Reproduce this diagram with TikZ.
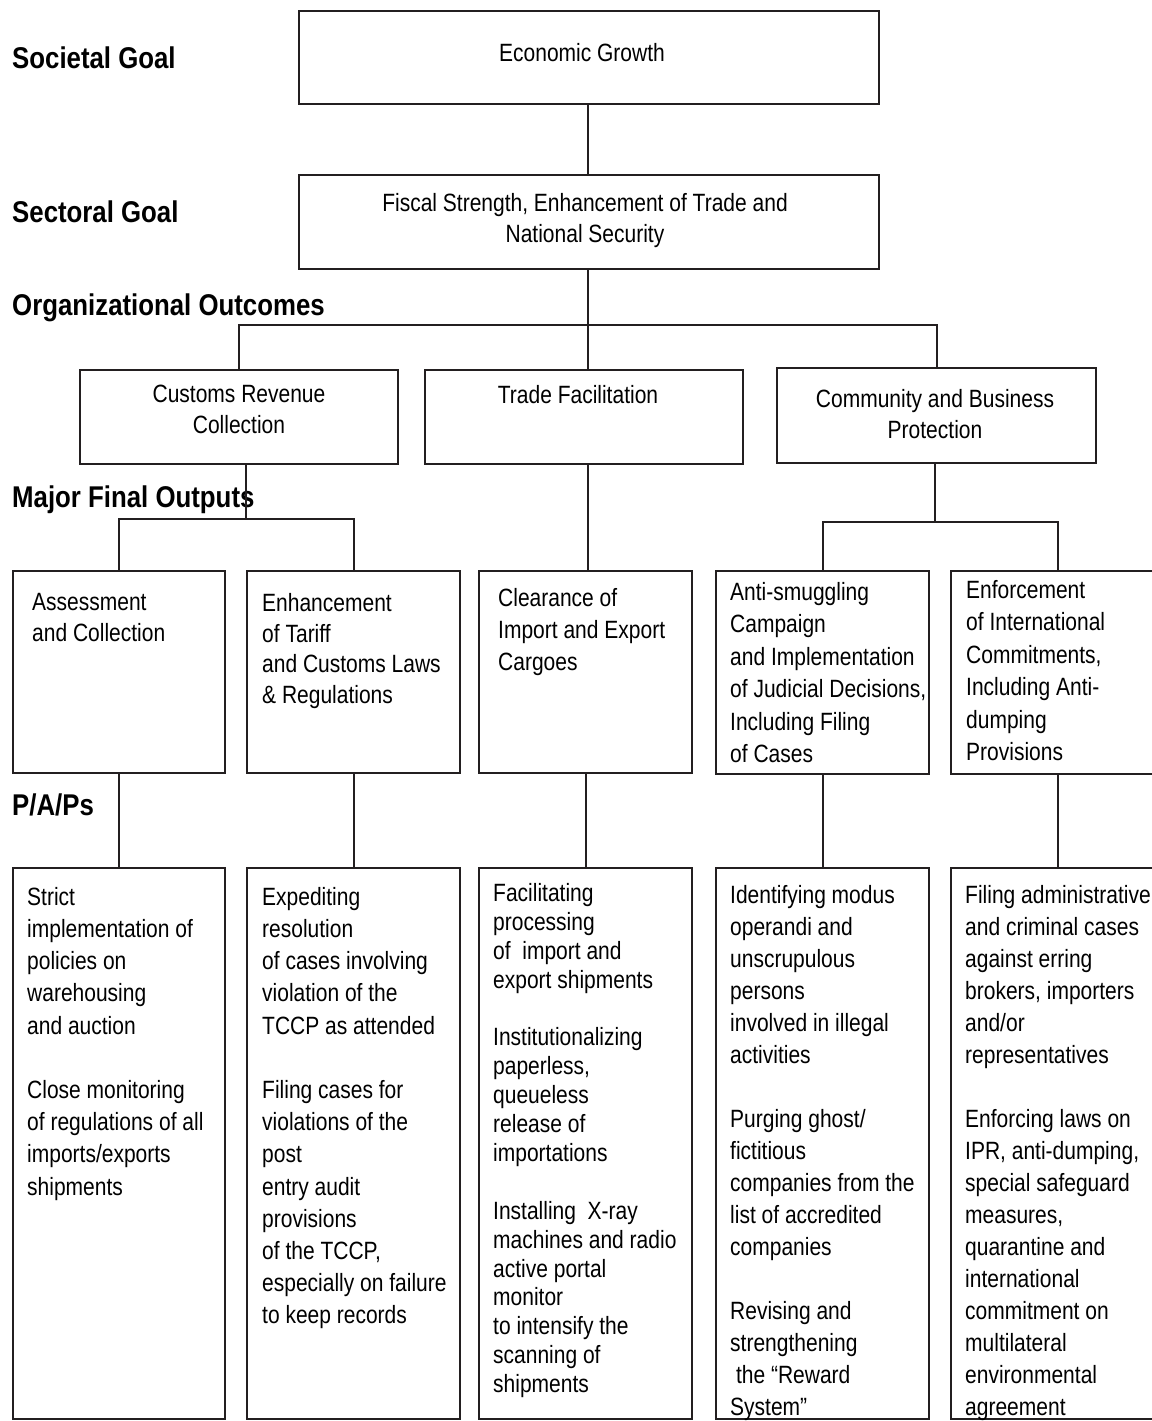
\documentclass[tikz,border=0pt]{standalone}
\usepackage{fontspec}
\setmainfont{Liberation Sans}[FakeStretch=0.84]
\newfontfamily\headfont{Liberation Sans}[FakeStretch=0.86]
\definecolor{inkclr}{RGB}{35,31,32}
\tikzset{
  lvl/.style={anchor=base west, inner sep=0pt, font=\headfont\bfseries\fontsize{30}{36}\selectfont},
  box/.style={draw=inkclr, line width=2pt, inner sep=0pt, anchor=north west},
  txt/.style={inner sep=0pt, anchor=north west, align=left, font=\fontsize{25}{#1}\selectfont},
  txt/.default=32,
  ctxt/.style={inner sep=0pt, anchor=north, align=center, font=\fontsize{25}{31}\selectfont},
  link/.style={draw=inkclr, line width=2pt}
}
\begin{document}
\begin{tikzpicture}[x=1pt,y=-1pt]
\useasboundingbox[fill=white] (0,0) rectangle (1151,1421);
% level labels
\node[lvl] (lsoc) at (12,68) {Societal Goal};
\node[lvl] (lsec) at (12,222) {Sectoral Goal};
\node[lvl] (lorg) at (12,315) {Organizational Outcomes};
\node[lvl] (lmfo) at (12,507) {Major Final Outputs};
\node[lvl] (lpap) at (12,815) {P/A/Ps};
% goals
\node[box, minimum width=580pt, minimum height=93pt] (eg) at (298,10) {};
\node[ctxt] (egt) at (582,43) {Economic Growth};
\node[box, minimum width=580pt, minimum height=94pt] (fs) at (298,174) {};
\node[ctxt] (fst) at (585,193) {Fiscal Strength, Enhancement of Trade and\\National Security};
% organizational outcomes
\node[box, minimum width=318pt, minimum height=94pt] (crc) at (79,369) {};
\node[ctxt] (crct) at (239,385) {Customs Revenue\\Collection};
\node[box, minimum width=318pt, minimum height=94pt] (tf) at (424,369) {};
\node[ctxt] (tft) at (578,385) {Trade Facilitation};
\node[box, minimum width=319pt, minimum height=95pt] (cbp) at (776,367) {};
\node[ctxt] (cbpt) at (935,389) {Community and Business\\Protection};
% major final outputs
\node[box, minimum width=212pt, minimum height=202pt] (a3) at (12,570) {};
\node[txt=30.7] (a3t) at (32,593) {Assessment\\and Collection};
\node[box, minimum width=213pt, minimum height=202pt] (b3) at (246,570) {};
\node[txt=30.7] (b3t) at (262,593) {Enhancement\\of Tariff\\and Customs Laws\\\& Regulations};
\node[box, minimum width=213pt, minimum height=202pt] (c3) at (478,570) {};
\node[txt=32] (c3t) at (498,588) {Clearance of\\Import and Export\\Cargoes};
\node[box, minimum width=213pt, minimum height=203pt] (d3) at (715,570) {};
\node[txt=32.5] (d3t) at (730,582) {Anti-smuggling\\Campaign\\and Implementation\\of Judicial Decisions,\\Including Filing\\of Cases};
\node[box, minimum width=214pt, minimum height=203pt] (e3) at (950,570) {};
\node[txt=32.5] (e3t) at (966,580) {Enforcement\\of International\\Commitments,\\Including Anti-\\dumping\\Provisions};
% programs, activities and projects
\node[box, minimum width=212pt, minimum height=551pt] (a4) at (12,867) {};
\node[txt=32.2] (a4t) at (27,887) {Strict\\implementation of\\policies on\\warehousing\\and auction\\[32.2pt]Close monitoring\\of regulations of all\\imports/exports\\shipments};
\node[box, minimum width=213pt, minimum height=551pt] (b4) at (246,867) {};
\node[txt=32.2] (b4t) at (262,887) {Expediting\\resolution\\of cases involving\\violation of the\\TCCP as attended\\[32.2pt]Filing cases for\\violations of the\\post\\entry audit\\provisions\\of the TCCP,\\especially on failure\\to keep records};
\node[box, minimum width=213pt, minimum height=551pt] (c4) at (478,867) {};
\node[txt=28.9] (c4t) at (493,883) {Facilitating\\processing\\of~ import and\\export shipments\\[28.9pt]Institutionalizing\\paperless,\\queueless\\release of\\importations\\[28.9pt]Installing~ X-ray\\machines and radio\\active portal\\monitor\\to intensify the\\scanning of\\shipments};
\node[box, minimum width=213pt, minimum height=551pt] (d4) at (715,867) {};
\node[txt=32] (d4t) at (730,885) {Identifying modus\\operandi and\\unscrupulous\\persons\\involved in illegal\\activities\\[32pt]Purging ghost/\\fictitious\\companies from the\\list of accredited\\companies\\[32pt]Revising and\\strengthening\\~the ``Reward\\System''};
\node[box, minimum width=214pt, minimum height=551pt] (e4) at (950,867) {};
\node[txt=32] (e4t) at (965,885) {Filing administrative\\and criminal cases\\against erring\\brokers, importers\\and/or\\representatives\\[32pt]Enforcing laws on\\IPR, anti-dumping,\\special safeguard\\measures,\\quarantine and\\international\\commitment on\\multilateral\\environmental\\agreement};
% connectors
\coordinate (spine) at (588,0);
\coordinate (ooBus) at (0,325);
\coordinate (crcBus) at (0,519);
\coordinate (cbpBus) at (0,522);
\draw[link] (eg.south -| spine) -- (fs.north -| spine);
\draw[link] (fs.south -| spine) -- (tf.north -| spine);
\draw[link] (crc.north) -- (crc.north |- ooBus) -- (cbp.north |- ooBus) -- (cbp.north);
\draw[link] ([xshift=7pt]crc.south) -- ([xshift=7pt]crc.south |- crcBus);
\draw[link] (a3.north) -- (a3.north |- crcBus) -- (b3.north |- crcBus) -- (b3.north);
\draw[link] (tf.south -| spine) -- (c3.north -| spine);
\draw[link] ([xshift=-2pt]cbp.south) -- ([xshift=-2pt]cbp.south |- cbpBus);
\draw[link] (d3.north) -- (d3.north |- cbpBus) -- (e3.north |- cbpBus) -- (e3.north);
\foreach \n in {a,b,c,d,e}
  \draw[link] (\n3.south) -- (\n4.north);
\end{tikzpicture}
\end{document}
